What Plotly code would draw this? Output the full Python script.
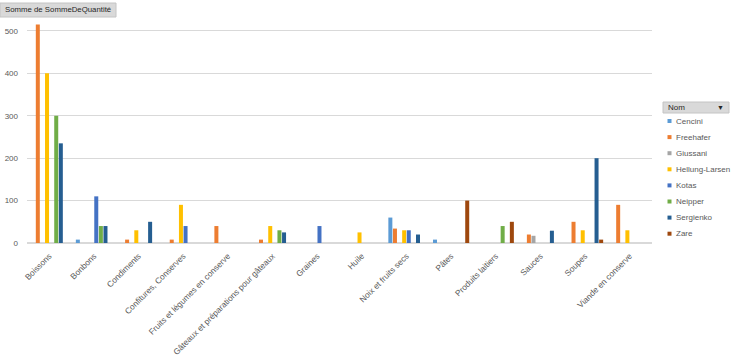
import plotly.graph_objects as go

categories = ["Boissons", "Bonbons", "Condiments", "Confitures, Conserves",
              "Fruits et légumes en conserve", "Gâteaux et préparations pour gâteaux",
              "Graines", "Huile", "Noix et fruits secs", "Pâtes", "Produits laitiers",
              "Sauces", "Soupes", "Viande en conserve"]

series_names = ["Cencini", "Freehafer", "Giussani", "Hellung-Larsen",
                "Kotas", "Neipper", "Sergienko", "Zare"]

cencini =        [None, 8, None, None, None, None, None, None, 60, 8, None, None, None, None]
freehafer =      [515, None, 8, 8, 40, 8, None, None, 34, None, None, 20, 50, 90]
giussani =       [None, None, None, None, None, None, None, None, None, None, None, 17, None, None]
hellung_larsen = [400, None, 30, 90, None, 40, None, 25, 30, None, None, None, 30, 30]
kotas =          [None, 110, None, 40, None, None, 40, None, 30, None, None, None, None, None]
neipper =        [300, 40, None, None, None, 30, None, None, None, None, 40, None, None, None]
sergienko =      [235, 40, 50, None, None, 25, None, None, 20, None, None, 29, 200, None]
zare =           [None, None, None, None, None, None, None, None, None, 100, 50, None, 8, None]

series_values = [cencini, freehafer, giussani, hellung_larsen, kotas, neipper, sergienko, zare]
colors = ["#5B9BD5", "#ED7D31", "#A5A5A5", "#FFC000", "#4472C4", "#70AD47", "#255E91", "#9E480E"]

y_ticks = [0, 100, 200, 300, 400, 500]

FONT = "Liberation Sans, Arial, sans-serif"
W, H = 736, 356
ML, MR, MT, MB = 27, 84, 14, 113
PW = W - ML - MR
PH = H - MT - MB


def px_x(x):
    return (x - ML) / PW


def px_y(y):
    return (H - MB - y) / PH


fig = go.Figure()
for name, vals, col in zip(series_names, series_values, colors):
    fig.add_trace(go.Bar(x=categories, y=vals, name=name, marker_color=col,
                         marker_line_width=0, showlegend=False))

shapes = []
annotations = []

# pivot field button (top-left)
shapes.append(dict(type="rect", xref="paper", yref="paper",
                   x0=px_x(0), x1=px_x(116), y0=px_y(17), y1=px_y(3),
                   fillcolor="#D9D9D9", line=dict(color="#C4C4C4", width=1), layer="above"))
annotations.append(dict(text="Somme de SommeDeQuantité", xref="paper", yref="paper",
                        x=px_x(3), y=px_y(10), xanchor="left", yanchor="middle",
                        showarrow=False, font=dict(size=7.8, color="#262626", family=FONT)))

# legend header button
shapes.append(dict(type="rect", xref="paper", yref="paper",
                   x0=px_x(663), x1=px_x(729), y0=px_y(113), y1=px_y(102),
                   fillcolor="#D9D9D9", line=dict(color="#C4C4C4", width=1), layer="above"))
annotations.append(dict(text="Nom", xref="paper", yref="paper",
                        x=px_x(666), y=px_y(107.5), xanchor="left", yanchor="middle",
                        showarrow=False, font=dict(size=8, color="#262626", family=FONT)))
annotations.append(dict(text="▼", xref="paper", yref="paper",
                        x=px_x(726), y=px_y(107.5), xanchor="right", yanchor="middle",
                        showarrow=False, font=dict(size=7, color="#262626", family=FONT)))

# legend entries
for i, (name, col) in enumerate(zip(series_names, colors)):
    cy = 121 + i * 16.1
    shapes.append(dict(type="rect", xref="paper", yref="paper",
                       x0=px_x(667.5), x1=px_x(671.5), y0=px_y(cy + 2), y1=px_y(cy - 2),
                       fillcolor=col, line=dict(width=0), layer="above"))
    annotations.append(dict(text=name, xref="paper", yref="paper",
                            x=px_x(674), y=px_y(cy), xanchor="left", yanchor="middle",
                            showarrow=False, font=dict(size=8, color="#595959", family=FONT)))

fig.update_layout(
    width=W, height=H,
    margin=dict(l=ML, r=MR, t=MT, b=MB, pad=0),
    barmode="group", bargap=0.175, bargroupgap=0.13,
    plot_bgcolor="white", paper_bgcolor="white",
    font=dict(family=FONT, size=8, color="#595959"),
    shapes=shapes, annotations=annotations,
    showlegend=False,
)
fig.update_xaxes(tickangle=-45, tickfont=dict(size=8.3, color="#595959"),
                 showgrid=False, showline=True, linecolor="#D9D9D9", linewidth=1,
                 ticks="", automargin=False, ticklabelstandoff=4)
fig.update_yaxes(range=[0, 540], tickvals=y_ticks, showgrid=True, gridcolor="#D9D9D9",
                 gridwidth=1, zeroline=True, zerolinecolor="#D9D9D9", showline=False,
                 tickfont=dict(size=8, color="#595959"), ticklabelstandoff=8,
                 automargin=False)

fig.write_html("out.html",
               config={"displayModeBar": False},
               post_script="document.body.style.margin='0';document.body.style.padding='0';"
                           "document.body.style.overflow='hidden';")
